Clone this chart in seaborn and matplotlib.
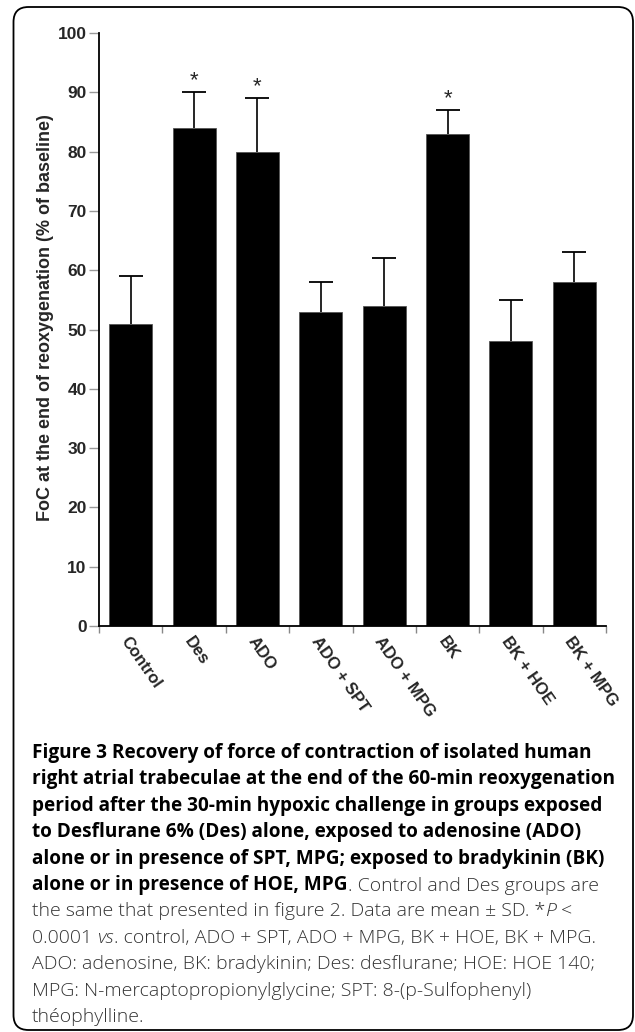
import numpy as np
import matplotlib.pyplot as plt
import seaborn as sns
from matplotlib.patches import FancyBboxPatch

# Data (mean and SD of FoC, % of baseline)
groups = ["Control", "Des", "ADO", "ADO + SPT", "ADO + MPG", "BK", "BK + HOE", "BK + MPG"]
foc_mean = [51, 84, 80, 53, 54, 83, 48, 58]
foc_sd = [8, 6, 9, 5, 8, 4, 7, 5]
significant = [False, True, True, False, False, True, False, False]
y_ticks = [0, 10, 20, 30, 40, 50, 60, 70, 80, 90, 100]

sns.set_theme(style="ticks")
plt.rcParams['font.family'] = ['Liberation Sans', 'DejaVu Sans']

W, H = 635, 1032
fig = plt.figure(figsize=(W / 100, H / 100), dpi=100)
ax = fig.add_axes([99 / W, 1 - 626 / H, 507 / W, (626 - 33) / H])

sns.barplot(x=groups, y=foc_mean, color="black", saturation=1, width=0.68,
            edgecolor="#555555", linewidth=0.6, errorbar=None, ax=ax)

# upper error bars only (drop the lower cap sitting on the bar top)
eb = ax.errorbar(np.arange(len(groups)), foc_mean, yerr=[np.zeros(len(groups)), foc_sd],
                 fmt="none", ecolor="black", elinewidth=1.2, capsize=8.5, capthick=1.3)
eb.lines[1][0].remove()

for i, sig in enumerate(significant):
    if sig:
        ax.annotate("*", xy=(i, foc_mean[i] + foc_sd[i]), xytext=(0, 1),
                    textcoords="offset points", ha="center", va="bottom", fontsize=16)

ax.set_ylim(0, 100)
ax.set_xlim(-0.5, len(groups) - 0.5)
ax.set_yticks(y_ticks)
ax.set_yticklabels([str(t) for t in y_ticks], fontsize=12.5, fontweight="bold")
ax.set_xticks(np.arange(len(groups)))
ax.set_xticklabels(groups, fontsize=12, fontweight="bold", rotation=-55,
                   ha="left", va="top", rotation_mode="anchor")
ax.set_xticks(np.arange(-0.5, len(groups), 1), minor=True)
ax.tick_params(axis="x", which="major", length=0, pad=6)
ax.tick_params(axis="x", which="minor", length=5, width=1, color="#888888")
ax.tick_params(axis="y", length=7, width=1, color="#999999", pad=2)
ax.set_xlabel("")
ax.set_ylabel("FoC at the end of reoxygenation (% of baseline)", fontsize=13, fontweight="bold")
ax.yaxis.set_label_coords(-0.089, 0.52)

sns.despine(ax=ax)
for s in ["left", "bottom"]:
    ax.spines[s].set_color("black")
    ax.spines[s].set_linewidth(1.3)

# rounded frame around figure + caption
frame = FancyBboxPatch((0.135, 0.02), 6.195, 10.23,
                       boxstyle="round,pad=0,rounding_size=0.15",
                       transform=fig.dpi_scale_trans, fill=False, lw=1.3, ec="black")
fig.add_artist(frame)

# caption, one list of (text, style) pieces per line
cap_font = ["Open Sans", "DejaVu Sans"]
styles = {
    "b": dict(fontweight="bold", color="black", fontsize=13.7),
    "r": dict(fontweight="light", color="#333333", fontsize=14),
    "i": dict(fontweight="light", color="#333333", fontstyle="italic", fontsize=14),
}
caption_lines = [
    [("Figure 3 Recovery of force of contraction of isolated human", "b")],
    [("right atrial trabeculae at the end of the 60-min reoxygenation", "b")],
    [("period after the 30-min hypoxic challenge in groups exposed", "b")],
    [("to Desflurane 6% (Des) alone, exposed to adenosine (ADO)", "b")],
    [("alone or in presence of SPT, MPG; exposed to bradykinin (BK)", "b")],
    [("alone or in presence of HOE, MPG", "b"), (". Control and Des groups are", "r")],
    [("the same that presented in figure 2. Data are mean \u00b1 SD. *", "r"), ("P", "i"), (" <", "r")],
    [("0.0001 ", "r"), ("vs", "i"), (". control, ADO + SPT, ADO + MPG, BK + HOE, BK + MPG.", "r")],
    [("ADO: adenosine, BK: bradykinin; Des: desflurane; HOE: HOE 140;", "r")],
    [("MPG: N-mercaptopropionylglycine; SPT: 8-(p-Sulfophenyl)", "r")],
    [("th\u00e9ophylline.", "r")],
]

base0, step = 758, 26.4
for k, line in enumerate(caption_lines):
    last = None
    for txt, st in line:
        if last is None:
            last = fig.text(32 / W, 1 - (base0 + k * step) / H, txt, ha="left",
                            va="baseline", family=cap_font, **styles[st])
        else:
            last = ax.annotate(txt, xycoords=last, xy=(1, 0), ha="left", va="bottom",
                               family=cap_font, annotation_clip=False, **styles[st])

fig.savefig("out.png", dpi=100)
